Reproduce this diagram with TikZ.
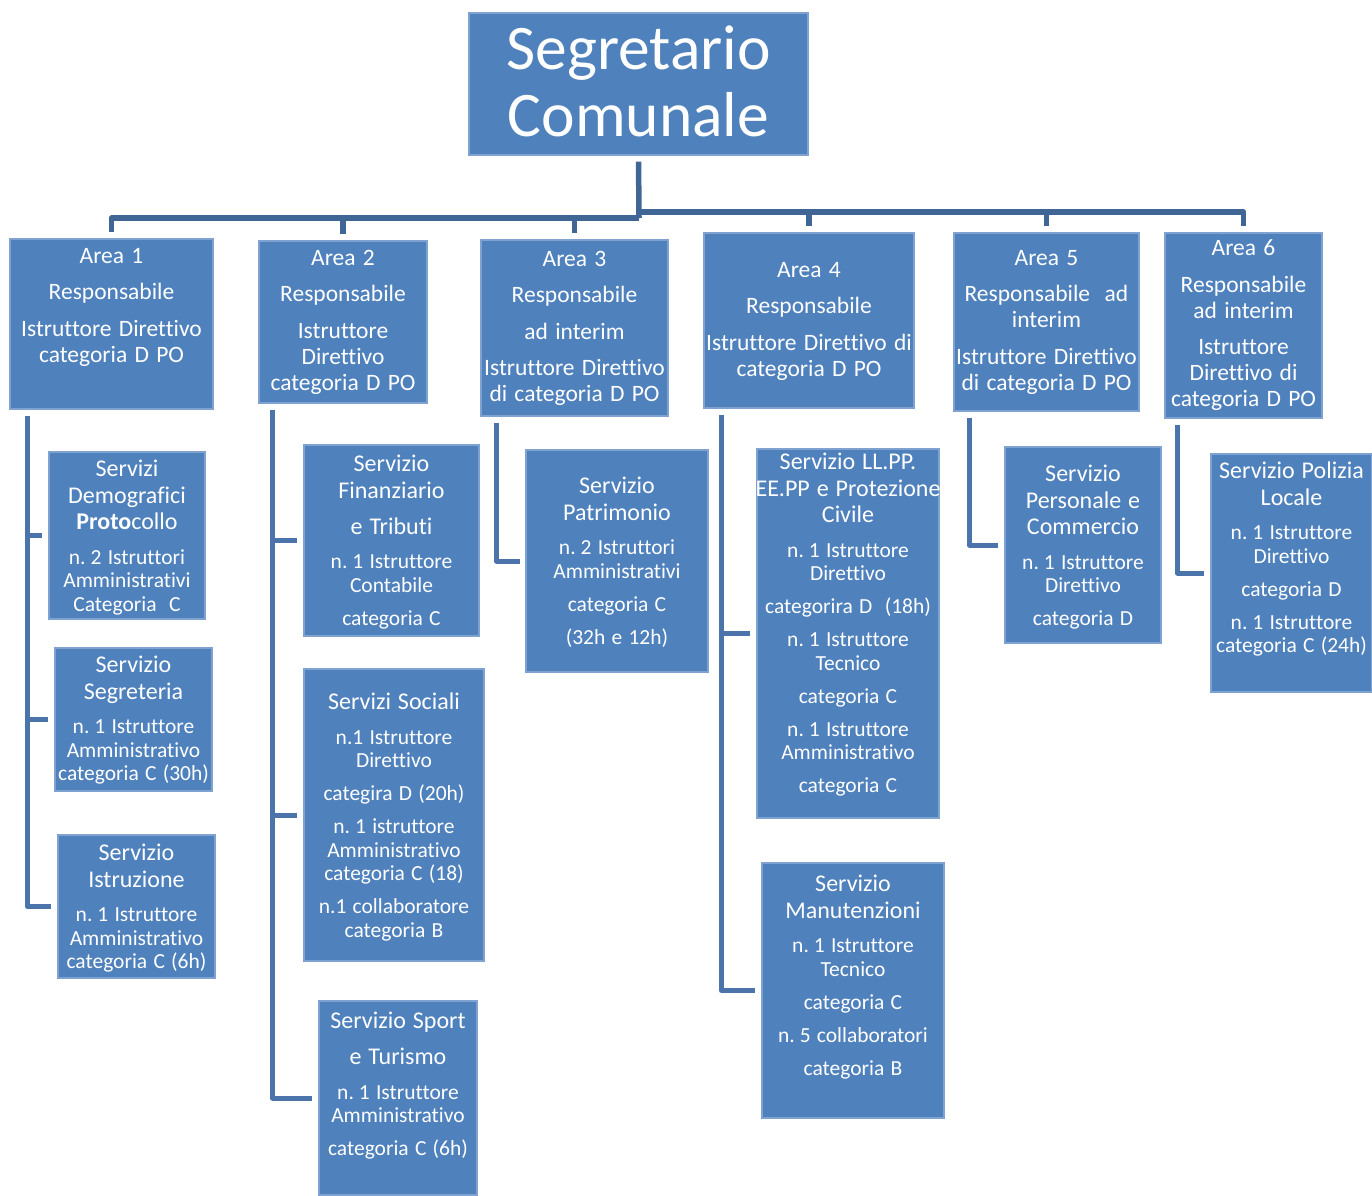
\documentclass[tikz,border=0pt]{standalone}
\usepackage{fontspec}
\setmainfont{Carlito}[Ligatures=NoCommon]
\definecolor{boxblue}{HTML}{4F81BD}
\definecolor{boxedge}{HTML}{7FA2D0}
\definecolor{trunkc}{HTML}{3F6695}
\definecolor{branchc}{HTML}{4A74AA}
\newcommand{\segf}{\fontsize{63.5}{67}\selectfont\spaceskip=0.28em\relax}
\newcommand{\arf}{\fontsize{23.5}{26}\selectfont\spaceskip=0.31em\relax}
\newcommand{\ttlf}{\fontsize{24}{26.5}\selectfont\spaceskip=0.29em\relax}
\newcommand{\bdyf}{\fontsize{21.5}{23.5}\selectfont\spaceskip=0.29em\relax}
\newcommand{\pg}{\par\vspace{9.5pt}}
\newcommand{\apg}{\par\vspace{10.5pt}}
\newcommand{\tb}{\par\vspace{11pt}\bdyf}
\tikzset{
  box/.style={rectangle, fill=boxblue, draw=boxedge, line width=1.2pt, inner sep=0pt},
  txt/.style={text=white, align=center, inner sep=0pt, outer sep=0pt},
  trunk/.style={draw=trunkc, line width=5.5pt, line join=round},
  branch/.style={draw=branchc, line width=5pt, line join=round},
}
\newcommand{\orgbox}[7]{%
  \pgfmathsetmacro{\bw}{#4-#2}\pgfmathsetmacro{\bh}{#5-#3}%
  \pgfmathsetmacro{\bcx}{(#2+#4)/2}\pgfmathsetmacro{\bcy}{(#3+#5)/2}%
  \pgfmathsetmacro{\tw}{#4-#2+30}%
  \node[box, minimum width=\bw pt, minimum height=\bh pt] (#1) at (\bcx,\bcy) {};
  \node[txt, text width=\tw pt, anchor=north] (#1t) at (\bcx,#6) {#7\par};
}
\begin{document}
\begin{tikzpicture}[x=1pt,y=-1pt]
\useasboundingbox (0,0) rectangle (1372,1195);
% top
\orgbox{seg}{469}{13}{808}{155}{26}{\segf Segretario\\Comunale}
% areas
\orgbox{a1}{10}{239}{213}{409}{248}{\arf Area 1\apg Responsabile\apg Istruttore Direttivo\\categoria D PO}
\orgbox{a2}{259}{241}{427}{403}{250}{\arf Area 2\apg Responsabile\apg Istruttore\\Direttivo\\categoria D PO}
\orgbox{a3}{481}{240}{668}{416}{251}{\arf Area 3\apg Responsabile\apg ad interim\apg Istruttore Direttivo\\di categoria D PO}
\orgbox{a4}{704}{233}{914}{408}{262}{\arf Area 4\apg Responsabile\apg Istruttore Direttivo di\\categoria D PO}
\orgbox{a5}{954}{233}{1139}{411}{250}{\arf Area 5\apg Responsabile\ \ ad\\interim\apg Istruttore Direttivo\\di categoria D PO}
\orgbox{a6}{1165}{233}{1322}{418}{240}{\arf Area 6\apg Responsabile\\ad interim\apg Istruttore\\Direttivo di\\categoria D PO}
% services
\orgbox{s11}{49}{452}{205}{619}{460}{\ttlf Servizi\\Demografici\\\textbf{Proto}collo\tb n. 2 Istruttori\\Amministrativi\\Categoria\ \ C}
\orgbox{s12}{55}{648}{212}{791}{656}{\ttlf Servizio\\Segreteria\tb n. 1 Istruttore\\Amministrativo\\categoria C (30h)}
\orgbox{s13}{58}{835}{215}{978}{844}{\ttlf Servizio\\Istruzione\tb n. 1 Istruttore\\Amministrativo\\categoria C (6h)}
\orgbox{s21}{304}{445}{479}{636}{455}{\ttlf Servizio\\Finanziario\pg e Tributi\tb n. 1 Istruttore\\Contabile\pg categoria C}
\orgbox{s22}{304}{669}{484}{961}{693}{\ttlf Servizi Sociali\tb n.1 Istruttore\\Direttivo\pg categira D (20h)\pg n. 1 istruttore\\Amministrativo\\categoria C (18)\pg n.1 collaboratore\\categoria B}
\orgbox{s23}{319}{1001}{477}{1195}{1012}{\ttlf Servizio Sport\pg e Turismo\tb n. 1 Istruttore\\Amministrativo\pg categoria C (6h)}
\orgbox{s31}{526}{450}{708}{672}{477}{\ttlf Servizio\\Patrimonio\tb n. 2 Istruttori\\Amministrativi\pg categoria C\pg (32h e 12h)}
\orgbox{s41}{757}{449}{939}{818}{453}{\ttlf Servizio LL.PP.\\EE.PP e Protezione\\Civile\tb n. 1 Istruttore\\Direttivo\pg categorira D\ \ (18h)\pg n. 1 Istruttore\\Tecnico\pg categoria C\pg n. 1 Istruttore\\Amministrativo\pg categoria C}
\orgbox{s42}{762}{863}{944}{1118}{875}{\ttlf Servizio\\Manutenzioni\tb n. 1 Istruttore\\Tecnico\pg categoria C\pg n. 5 collaboratori\pg categoria B}
\orgbox{s51}{1005}{447}{1161}{643}{465}{\ttlf Servizio\\Personale e\\Commercio\tb n. 1 Istruttore\\Direttivo\pg categoria D}
\orgbox{s61}{1211}{454}{1372}{692}{462}{\ttlf Servizio Polizia\\Locale\tb n. 1 Istruttore\\Direttivo\pg categoria D\pg n. 1 Istruttore\\categoria C (24h)}
% trunk connectors
\coordinate (hubL) at (639,218);
\coordinate (hubR) at (639,212);
\draw[trunk, shorten <=6pt] (seg.south) -- (hubL);
\foreach \a in {a1,a2,a3} \draw[trunk, shorten >=6pt] (hubL) -| (\a.north);
\foreach \a in {a4,a5,a6} \draw[trunk, shorten >=6pt] (hubR) -| (\a.north);
% branch connectors
\foreach \s in {s11,s12,s13} \draw[branch, shorten <=6pt, shorten >=6pt] ([xshift=18pt]a1.south west) |- (\s.west);
\foreach \s in {s21,s22,s23} \draw[branch, shorten <=6pt, shorten >=6pt] ([xshift=14pt]a2.south west) |- (\s.west);
\draw[branch, shorten <=6pt, shorten >=5pt] ([xshift=16pt]a3.south west) |- (s31.west);
\foreach \s in {s41,s42} \draw[branch, shorten <=6pt, shorten >=6pt] ([xshift=18pt]a4.south west) |- (\s.west);
\draw[branch, shorten <=6pt, shorten >=6pt] ([xshift=16pt]a5.south west) |- (s51.west);
\draw[branch, shorten <=6pt, shorten >=6pt] ([xshift=13pt]a6.south west) |- (s61.west);
\end{tikzpicture}
\end{document}
